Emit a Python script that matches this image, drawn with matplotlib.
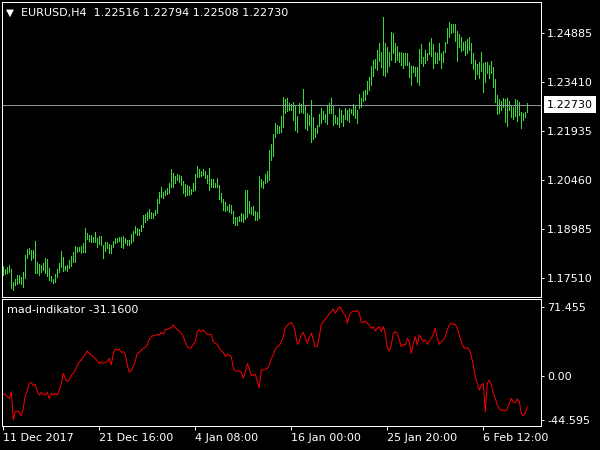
"""MT4-style EURUSD H4 bar chart with the mad-indikator sub-window."""

import matplotlib
import numpy as np

matplotlib.use("Agg")
import matplotlib.pyplot as plt  # noqa: E402
from matplotlib.transforms import blended_transform_factory  # noqa: E402

symbol = "EURUSD,H4"
last_ohlc = [1.22516, 1.22794, 1.22508, 1.22730]

bar_high = [
    1.1787, 1.1778, 1.1784, 1.1790, 1.1778, 1.1738, 1.1747, 1.1759, 1.1759, 1.1753,
    1.1768, 1.1820, 1.1838, 1.1841, 1.1835, 1.1835, 1.1862, 1.1799, 1.1793, 1.1790,
    1.1796, 1.1811, 1.1808, 1.1781, 1.1756, 1.1747, 1.1762, 1.1778, 1.1796, 1.1832,
    1.1814, 1.1787, 1.1790, 1.1805, 1.1817, 1.1829, 1.1847, 1.1844, 1.1844, 1.1847,
    1.1856, 1.1901, 1.1886, 1.1880, 1.1880, 1.1874, 1.1889, 1.1871, 1.1877, 1.1877,
    1.1850, 1.1859, 1.1859, 1.1853, 1.1850, 1.1862, 1.1871, 1.1871, 1.1874, 1.1874,
    1.1877, 1.1871, 1.1865, 1.1865, 1.1883, 1.1892, 1.1907, 1.1901, 1.1898, 1.1910,
    1.1940, 1.1943, 1.1949, 1.1958, 1.1949, 1.1946, 1.1955, 1.1989, 1.2010, 1.2025,
    1.2010, 1.2016, 1.2022, 1.2037, 1.2079, 1.2067, 1.2058, 1.2064, 1.2061, 1.2058,
    1.2043, 1.2034, 1.2031, 1.2028, 1.2019, 1.2037, 1.2064, 1.2088, 1.2079, 1.2073,
    1.2079, 1.2073, 1.2061, 1.2082, 1.2049, 1.2049, 1.2037, 1.2052, 1.2031, 1.2007,
    1.1989, 1.1980, 1.1968, 1.1974, 1.1971, 1.1952, 1.1934, 1.1934, 1.1937, 1.1946,
    1.1943, 1.2016, 1.2016, 1.1983, 1.1965, 1.1968, 1.1952, 1.1949, 1.2058, 1.2049,
    1.2043, 1.2064, 1.2073, 1.2136, 1.2155, 1.2185, 1.2218, 1.2212, 1.2209, 1.2239,
    1.2296, 1.2290, 1.2293, 1.2278, 1.2275, 1.2281, 1.2269, 1.2239, 1.2278, 1.2275,
    1.2320, 1.2272, 1.2248, 1.2242, 1.2287, 1.2236, 1.2203, 1.2212, 1.2245, 1.2263,
    1.2254, 1.2245, 1.2269, 1.2278, 1.2293, 1.2272, 1.2242, 1.2236, 1.2263, 1.2257,
    1.2242, 1.2263, 1.2257, 1.2263, 1.2260, 1.2275, 1.2269, 1.2257, 1.2305, 1.2293,
    1.2314, 1.2317, 1.2345, 1.2357, 1.2390, 1.2408, 1.2411, 1.2438, 1.2459, 1.2432,
    1.2538, 1.2459, 1.2447, 1.2432, 1.2492, 1.2489, 1.2459, 1.2450, 1.2432, 1.2432,
    1.2429, 1.2429, 1.2429, 1.2402, 1.2390, 1.2390, 1.2387, 1.2387, 1.2441, 1.2456,
    1.2417, 1.2438, 1.2429, 1.2462, 1.2474, 1.2456, 1.2432, 1.2429, 1.2459, 1.2429,
    1.2435, 1.2462, 1.2505, 1.2523, 1.2517, 1.2517, 1.2517, 1.2495, 1.2486, 1.2477,
    1.2462, 1.2465, 1.2471, 1.2477, 1.2459, 1.2429, 1.2408, 1.2396, 1.2402, 1.2432,
    1.2399, 1.2402, 1.2402, 1.2393, 1.2405, 1.2387, 1.2351, 1.2302, 1.2290, 1.2284,
    1.2293, 1.2290, 1.2293, 1.2284, 1.2269, 1.2266, 1.2290, 1.2287, 1.2281, 1.2251,
    1.2248, 1.2251, 1.22794,
]

bar_low = [
    1.1759, 1.1762, 1.1765, 1.1768, 1.1720, 1.1714, 1.1729, 1.1732, 1.1735, 1.1732,
    1.1723, 1.1750, 1.1811, 1.1823, 1.1805, 1.1811, 1.1765, 1.1765, 1.1759, 1.1768,
    1.1774, 1.1765, 1.1756, 1.1744, 1.1741, 1.1735, 1.1738, 1.1753, 1.1768, 1.1784,
    1.1771, 1.1774, 1.1771, 1.1781, 1.1787, 1.1799, 1.1799, 1.1829, 1.1832, 1.1826,
    1.1829, 1.1829, 1.1868, 1.1862, 1.1859, 1.1859, 1.1859, 1.1844, 1.1853, 1.1850,
    1.1811, 1.1832, 1.1841, 1.1826, 1.1826, 1.1844, 1.1856, 1.1859, 1.1862, 1.1844,
    1.1841, 1.1856, 1.1850, 1.1850, 1.1856, 1.1862, 1.1886, 1.1880, 1.1880, 1.1892,
    1.1904, 1.1919, 1.1925, 1.1931, 1.1931, 1.1931, 1.1940, 1.1946, 1.1977, 1.1995,
    1.1992, 1.2001, 1.2004, 1.2007, 1.2025, 1.2025, 1.2037, 1.2046, 1.2040, 1.2031,
    1.2007, 1.1998, 1.2001, 1.2001, 1.2004, 1.2013, 1.2016, 1.2055, 1.2055, 1.2058,
    1.2061, 1.2052, 1.2037, 1.2016, 1.2025, 1.2025, 1.2025, 1.2025, 1.1989, 1.1980,
    1.1955, 1.1952, 1.1955, 1.1949, 1.1946, 1.1916, 1.1910, 1.1910, 1.1922, 1.1922,
    1.1919, 1.1928, 1.1934, 1.1946, 1.1943, 1.1940, 1.1925, 1.1925, 1.1931, 1.2025,
    1.2022, 1.2037, 1.2040, 1.2046, 1.2106, 1.2118, 1.2176, 1.2188, 1.2188, 1.2191,
    1.2206, 1.2248, 1.2254, 1.2257, 1.2257, 1.2227, 1.2197, 1.2191, 1.2248, 1.2251,
    1.2248, 1.2203, 1.2197, 1.2212, 1.2161, 1.2170, 1.2176, 1.2188, 1.2209, 1.2218,
    1.2230, 1.2221, 1.2215, 1.2248, 1.2248, 1.2212, 1.2218, 1.2215, 1.2206, 1.2221,
    1.2209, 1.2230, 1.2227, 1.2221, 1.2248, 1.2242, 1.2233, 1.2218, 1.2263, 1.2266,
    1.2284, 1.2287, 1.2305, 1.2317, 1.2333, 1.2360, 1.2384, 1.2378, 1.2405, 1.2387,
    1.2363, 1.2360, 1.2372, 1.2390, 1.2408, 1.2429, 1.2402, 1.2408, 1.2402, 1.2393,
    1.2384, 1.2393, 1.2393, 1.2357, 1.2333, 1.2372, 1.2360, 1.2342, 1.2333, 1.2399,
    1.2390, 1.2399, 1.2408, 1.2426, 1.2420, 1.2384, 1.2399, 1.2399, 1.2408, 1.2384,
    1.2402, 1.2432, 1.2459, 1.2477, 1.2489, 1.2492, 1.2465, 1.2405, 1.2447, 1.2435,
    1.2438, 1.2423, 1.2429, 1.2438, 1.2399, 1.2381, 1.2351, 1.2366, 1.2354, 1.2375,
    1.2311, 1.2342, 1.2369, 1.2354, 1.2369, 1.2327, 1.2281, 1.2245, 1.2248, 1.2257,
    1.2266, 1.2221, 1.2209, 1.2257, 1.2236, 1.2230, 1.2239, 1.2224, 1.2242, 1.2203,
    1.2227, 1.2236, 1.22508,
]

mad_values = [
    -18.0, -18.3, -20.7, -22.4, -15.6, -44.595, -36.1, -35.4, -36.7, -40.2,
    -32.6, -19.0, -14.9, -7.0, -6.0, -9.4, -8.1, -15.6, -19.0, -16.3,
    -18.3, -19.0, -16.3, -22.4, -17.3, -19.0, -17.3, -19.0, -13.9, -7.0,
    3.2, -1.9, -5.3, -3.6, 1.5, 3.2, 6.6, 11.7, 15.1, 16.8,
    20.3, 22.6, 26.1, 23.7, 22.0, 20.3, 18.6, 15.8, 13.4, 15.1,
    13.4, 14.5, 15.1, 18.6, 11.7, 23.7, 28.1, 27.1, 28.1, 24.7,
    25.4, 22.6, 11.7, 4.2, 6.6, 10.0, 15.8, 23.7, 24.7, 27.1,
    28.8, 29.8, 32.2, 38.3, 40.7, 41.8, 41.8, 43.1, 42.4, 45.2,
    43.1, 47.9, 48.2, 49.3, 50.0, 52.7, 50.0, 47.6, 46.5, 44.2,
    40.7, 35.6, 30.5, 28.8, 29.5, 32.9, 35.6, 45.9, 47.6,
    45.9, 47.6, 45.2, 43.1, 43.1, 43.1, 35.6, 33.9, 32.9, 28.8, 26.1,
    24.7, 20.3, 22.6, 22.0, 20.3, 8.3, 5.6, 5.6, 5.6, 4.2,
    -1.9, 4.9, 13.4, 7.6, 0.8, 1.5, 2.2, -4.7, -11.5, 6.6,
    6.6, 7.6, 8.3, 11.7, 18.6, 22.0, 28.1, 30.5, 31.5, 35.6,
    40.7, 50.0, 52.0, 54.4, 55.4, 52.0, 45.2, 32.9, 35.6, 43.1,
    45.2, 39.7, 33.9, 39.7, 44.2, 37.3, 30.5, 30.5, 40.7, 53.4,
    56.1, 58.8, 61.2, 64.6, 66.3, 69.1, 64.6, 68.0, 71.455, 69.8,
    64.6, 62.9, 54.4, 62.9, 65.7, 67.0, 66.3, 68.0, 64.6,
    55.4, 55.4, 56.8, 54.4, 52.7, 49.3, 51.0, 46.5, 49.3, 51.0, 45.9,
    51.0, 44.2, 28.8, 26.1, 32.2, 44.2, 45.9, 44.2, 37.3, 30.5,
    32.9, 32.2, 39.0, 35.6, 23.7, 33.9, 40.7, 32.2, 42.4, 39.0,
    35.6, 37.3, 32.9, 36.3, 39.0, 43.1, 49.3, 39.0, 32.9, 35.6,
    37.3, 40.7, 47.6, 52.7, 54.4, 53.4, 53.4, 49.3, 42.4, 35.6,
    30.5, 28.8, 29.5, 27.1, 21.3, 11.7, -0.2, -7.0, -13.9, -8.7,
    -7.0, -36.1, -7.0, -3.6, -8.7, -17.3, -22.4, -29.2, -33.3, -34.4,
    -34.7, -35.4, -33.3, -27.5, -22.4, -26.5, -26.5, -23.1, -25.8, -37.8,
    -40.2, -37.8, -31.16,
]

price_ticks = [1.24885, 1.23410, 1.21935, 1.20460, 1.18985, 1.17510]
mad_ticks = [71.455, 0.0, -44.595]
mad_tick_labels = ["71.455", "0.00", "-44.595"]
time_tick_bars = [0, 48, 96, 144, 192, 240]
time_labels = ["11 Dec 2017", "21 Dec 16:00", "4 Jan 08:00",
               "16 Jan 00:00", "25 Jan 20:00", "6 Feb 12:00"]

BAR_COLOR = "#33dd33"
LINE_COLOR = "#ff0000"
FG = "white"
FS = 8.0
PX = 0.72  # one pixel in points at 100 dpi

plt.rcParams["font.family"] = ["DejaVu Sans"]

x = np.arange(len(bar_high))

fig = plt.figure(figsize=(6, 4.5), dpi=100, facecolor="black")
W, H = 600.0, 450.0
ax = fig.add_axes([2 / W, 1 - 297 / H, 539 / W, 295 / H], facecolor="black")
ax2 = fig.add_axes([2 / W, 1 - 426 / H, 539 / W, 127 / H], facecolor="black")

for a in (ax, ax2):
    for sp in a.spines.values():
        sp.set_color(FG)
        sp.set_linewidth(PX)
    a.set_xlim(-0.65, -0.65 + 539 / 2)
    a.yaxis.tick_right()
    a.tick_params(axis="y", colors=FG, length=2.2, width=PX, pad=2.2, labelsize=FS)

# price bars
ax.vlines(x, bar_low, bar_high, color=BAR_COLOR, linewidth=PX, antialiased=False)
ax.set_ylim(1.16930, 1.25830)
ax.set_yticks(price_ticks)
ax.set_yticklabels([f"{v:.5f}" for v in price_ticks])
ax.set_xticks([])

last_close = last_ohlc[3]
ax.axhline(last_close, color="#8a949e", linewidth=PX, antialiased=False)
tr = blended_transform_factory(ax.transAxes, ax.transData)
ax.text(1 + 6 / 539, last_close, f"{last_close:.5f}", transform=tr, color="black",
        fontsize=FS, va="center", ha="left",
        bbox=dict(boxstyle="square,pad=0.3", fc="white", ec="none"))

fig.text(5.5 / W, 1 - 12.5 / H, "\u25bc", color=FG, fontsize=7.5, va="center", ha="left")
fig.text(21 / W, 1 - 13 / H,
         symbol + "  " + " ".join(f"{v:.5f}" for v in last_ohlc),
         color=FG, fontsize=FS, va="center", ha="left")

# indicator window
ax2.plot(x, mad_values, color=LINE_COLOR, linewidth=0.7, antialiased=True)
ax2.set_ylim(-50.7, 79.3)
ax2.set_yticks(mad_ticks)
ax2.set_yticklabels(mad_tick_labels)
ax2.set_xticks(time_tick_bars)
ax2.set_xticklabels(time_labels)
ax2.tick_params(axis="x", colors=FG, length=2.9, width=PX, pad=2.0, labelsize=FS,
                direction="out")
for lbl in ax2.get_xticklabels():
    lbl.set_horizontalalignment("left")
ax2.text(5 / 539, 1 - 11 / 127, f"mad-indikator {mad_values[-1]:.4f}", transform=ax2.transAxes,
         color=FG, fontsize=FS, va="center", ha="left")

fig.savefig("out.png", dpi=100, facecolor="black")
plt.close(fig)
